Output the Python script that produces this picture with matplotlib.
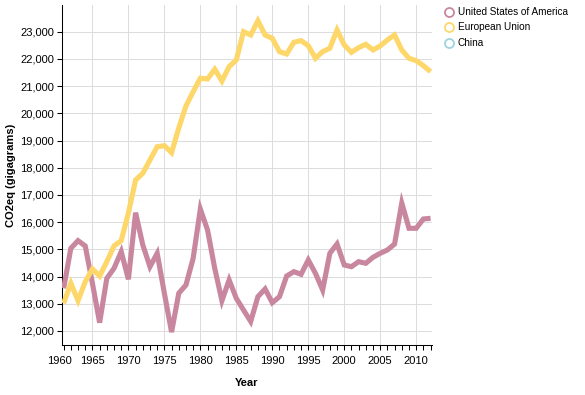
import numpy as np
import matplotlib
matplotlib.use("Agg")
import matplotlib.pyplot as plt
from matplotlib.lines import Line2D
from matplotlib.ticker import MultipleLocator, FuncFormatter

plt.rcParams["font.family"] = ["Liberation Sans", "DejaVu Sans"]
plt.rcParams["font.size"] = 8

# --- data ---
years = list(range(1961, 2013))

usa = [13568, 15039, 15320, 15124, 13752, 12306, 13935, 14303, 14916, 13899,
       16348, 15160, 14363, 14855, 13385, 11960, 13385, 13690, 14670, 16480,
       15712, 14303, 13115, 13874, 13200, 12772, 12350, 13262, 13544, 13040,
       13262, 14021, 14180, 14082, 14609, 14119, 13507, 14855, 15197, 14426,
       14363, 14547, 14488, 14708, 14855, 14977, 15197, 16700, 15774, 15774,
       16116, 16140]

eu = [13018, 13753, 13114, 13810, 14280, 14020, 14547, 15124, 15319, 16337,
      17549, 17796, 18285, 18773, 18810, 18553, 19460, 20269, 20795, 21287,
      21261, 21618, 21188, 21714, 21960, 23000, 22878, 23400, 22878, 22755,
      22265, 22180, 22610, 22670, 22485, 22022, 22265, 22390, 23062, 22510,
      22240, 22413, 22535, 22327, 22474, 22695, 22878, 22327, 22022, 21935,
      21750, 21530]

china = []  # in the legend, no values drawn

series = ["United States of America", "European Union", "China"]
colors = ["#c9879f", "#fed76a", "#9fd3df"]

# --- plot ---
fig = plt.figure(figsize=(5.85, 3.95), dpi=100)
ax = fig.add_axes([62 / 585, 50 / 395, 370 / 585, 340 / 395])

ax.plot(years, usa, color=colors[0], lw=3.7, solid_joinstyle="miter",
        solid_capstyle="butt", zorder=3)
ax.plot(years, eu, color=colors[1], lw=3.7, solid_joinstyle="miter",
        solid_capstyle="butt", zorder=3)
if china:
    ax.plot(years[:len(china)], china, color=colors[2], lw=3.7, zorder=3)

ax.set_xlim(1960.77, 2012.2)
ax.set_ylim(11485, 23980)

ax.set_xticks(range(1965, 2011, 5))
ax.xaxis.set_minor_locator(MultipleLocator(1))
ax.yaxis.set_major_locator(MultipleLocator(1000))
ax.yaxis.set_major_formatter(FuncFormatter(lambda v, p: f"{int(v):,}"))

ax.tick_params(axis="both", which="both", length=3.6, width=0.75,
               color="#000000", labelsize=8, pad=2)
ax.tick_params(axis="x", which="both", pad=4)

ax.grid(True, which="major", color="#dddddd", lw=0.75, zorder=0)
ax.set_axisbelow(True)

for s in ["top", "right"]:
    ax.spines[s].set_visible(False)
for s in ["left", "bottom"]:
    ax.spines[s].set_color("#000000")
    ax.spines[s].set_linewidth(0.75)

# first year label sits left of the domain start
ax.annotate("1960", xy=(1960.35, 0), xycoords=("data", "axes fraction"),
            xytext=(0, -7.6), textcoords="offset points",
            ha="center", va="top", fontsize=8, annotation_clip=False)

ax.set_xlabel("Year", fontweight="bold", fontsize=8, labelpad=9)
ax.set_ylabel("CO2eq (gigagrams)", fontweight="bold", fontsize=8, labelpad=3)

handles = [Line2D([], [], ls="none", marker="o", markersize=6.5,
                  markerfacecolor="none", markeredgecolor=c,
                  markeredgewidth=1.3) for c in colors]
fig.legend(handles, series, loc="upper left", bbox_to_anchor=(444 / 585, 1 - 7 / 395),
           frameon=False, fontsize=7.2, handlelength=1.0, handletextpad=0.35,
           labelspacing=0.55, borderaxespad=0, borderpad=0)

fig.savefig("out.png", dpi=100)
